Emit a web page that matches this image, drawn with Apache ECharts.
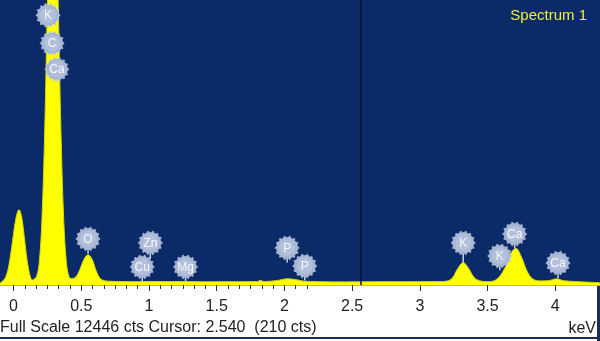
<!DOCTYPE html>
<html>
<head>
<meta charset="utf-8">
<script src="https://cdn.jsdelivr.net/npm/echarts@6/dist/echarts.min.js"></script>
<style>
html,body{margin:0;padding:0;background:#ffffff;}
#chart{width:600px;height:341px;}
</style>
</head>
<body>
<div id="chart"></div>
<script>
// ---- data (energy in keV, counts) ----
const energy = [-0.10,-0.06,-0.03,0.00,0.02,0.04,0.06,0.08,0.11,0.14,
  0.17,0.19,0.21,0.23,0.25,0.27,0.29,0.31,0.33,0.35,0.37,0.39,0.41,0.43,
  0.46,0.49,0.52,0.55,0.58,0.61,0.64,0.67,0.72,0.80,0.90,1.00,1.10,1.25,1.40,1.55,1.70,
  1.80,1.82,1.85,1.95,2.02,2.08,2.14,2.25,2.45,2.60,2.80,3.00,3.15,
  3.20,3.24,3.28,3.32,3.36,3.40,3.44,3.50,3.55,3.59,3.63,3.67,3.71,3.75,3.79,3.83,3.88,
  3.95,4.01,4.06,4.15,4.25,4.33];
const counts = [80,320,1000,2250,2980,3290,2980,2050,720,220,
  380,1000,2900,6700,12200,17200,19000,17200,12200,6700,2900,1000,350,280,
  350,680,1120,1320,1120,620,280,190,160,150,145,155,150,150,140,145,145,
  150,200,150,200,270,240,170,145,135,140,145,145,150,
  170,310,720,980,720,330,190,150,190,380,770,1370,1600,1220,620,280,180,
  190,270,190,150,120,100];

const fullScale = 12446;
const tickLabels = [0,0.5,1,1.5,2,2.5,3,3.5,4];
const cursorEnergy = 2.56;

// element markers: name, energy, circle-centre counts, stem-end counts
const markerNames  = ['K','C','Ca','O','Zn','Cu','Mg','P','P','K','K','Ca','Ca'];
const markerEnergy = [0.255,0.285,0.32,0.55,1.01,0.95,1.27,2.02,2.15,3.32,3.59,3.70,4.02];
const markerY      = [11780,10560,9420,2015,1840,790,790,1620,830,1840,1270,2230,960];
const markerStem   = [11780,10560,8850,1360,1140,150,150,980,200,980,640,1600,300];

const bottomText = 'Full Scale 12446 cts Cursor: 2.540  (210 cts)';

// ---- build ----
const spectrum = energy.map((e,i)=>[e,counts[i]]);
const markers = markerNames.map((n,i)=>[markerEnergy[i],markerY[i],markerStem[i],n]);
const minorTicks = [];
for(let k=0;k<=26;k++){ minorTicks.push(+(k*0.5/6).toFixed(4)); }

function gearPoints(cx,cy,R){
  const pts=[]; const N=140;
  for(let i=0;i<N;i++){
    const t=2*Math.PI*i/N;
    const r=R+(Math.cos(14*t)>0.35?1.4:0);
    pts.push([cx+r*Math.cos(t),cy+r*Math.sin(t)]);
  }
  return pts;
}

const BLUE='#0a2a68';
const FONT='Liberation Sans';
const chart = echarts.init(document.getElementById('chart'),null,{renderer:'canvas'});
chart.setOption({
  animation:false,
  backgroundColor:'#ffffff',
  title:{text:'Spectrum 1',right:8,top:3,
    textStyle:{color:'#f2ef3c',fontSize:15,fontWeight:'normal',fontFamily:FONT}},
  grid:{left:0,right:0,top:0,bottom:56,show:true,backgroundColor:BLUE,borderWidth:0},
  xAxis:[{
    type:'value',min:-0.1,max:4.33,
    axisLine:{show:true,lineStyle:{color:'#c8c800',width:1}},
    axisTick:{show:true,customValues:tickLabels,length:6,lineStyle:{color:'#333',width:1}},
    axisLabel:{customValues:tickLabels,margin:14,color:'#222',fontSize:16,fontFamily:FONT},
    splitLine:{show:false}
  },{
    type:'value',min:-0.1,max:4.33,position:'bottom',
    axisLine:{show:false},
    axisTick:{show:true,customValues:minorTicks,length:4,lineStyle:{color:'#333',width:1}},
    axisLabel:{show:false},splitLine:{show:false}
  }],
  yAxis:{type:'value',min:0,max:fullScale,show:false,splitLine:{show:false}},
  series:[{
    type:'line',data:spectrum,smooth:0.35,symbol:'none',clip:true,z:2,
    lineStyle:{color:'#d6d600',width:1},
    areaStyle:{color:'#ffff00',opacity:1},
    markLine:{silent:true,symbol:'none',label:{show:false},
      lineStyle:{color:'#021238',width:1.5,type:'solid'},
      data:[{xAxis:cursorEnergy}]}
  },{
    type:'custom',data:markers,clip:false,z:10,
    renderItem:function(params,api){
      const c=api.coord([api.value(0),api.value(1)]);
      const s=api.coord([api.value(0),api.value(2)]);
      const name=markers[params.dataIndex][3];
      const R=10.5;
      return {type:'group',children:[
        {type:'line',shape:{x1:c[0],y1:c[1]+R,x2:s[0],y2:s[1]},style:{stroke:'#c9d3e8',lineWidth:1.5}},
        {type:'polygon',shape:{points:gearPoints(c[0],c[1],R)},style:{fill:'#a7b6d4',stroke:'#c4cee4',lineWidth:0.6}},
        {type:'circle',shape:{cx:c[0],cy:c[1],r:8},style:{fill:'#b3c0dc'}},
        {type:'text',style:{text:name,x:c[0],y:c[1]+0.5,align:'center',verticalAlign:'middle',
          fill:'#f6f8fc',fontSize:12,fontFamily:FONT}}
      ]};
    }
  }],
  graphic:[
    {type:'text',left:0,top:320,z:20,style:{text:bottomText,fill:'#222',fontSize:16,fontFamily:FONT}},
    {type:'text',right:4,top:321,z:20,style:{text:'keV',fill:'#222',fontSize:16,fontFamily:FONT}},
    {type:'rect',shape:{x:0,y:337,width:600,height:2},style:{fill:'#1c2c58'}},
    {type:'rect',shape:{x:597,y:285,width:3,height:56},style:{fill:'#1c2c58'}}
  ]
});
</script>
</body>
</html>
